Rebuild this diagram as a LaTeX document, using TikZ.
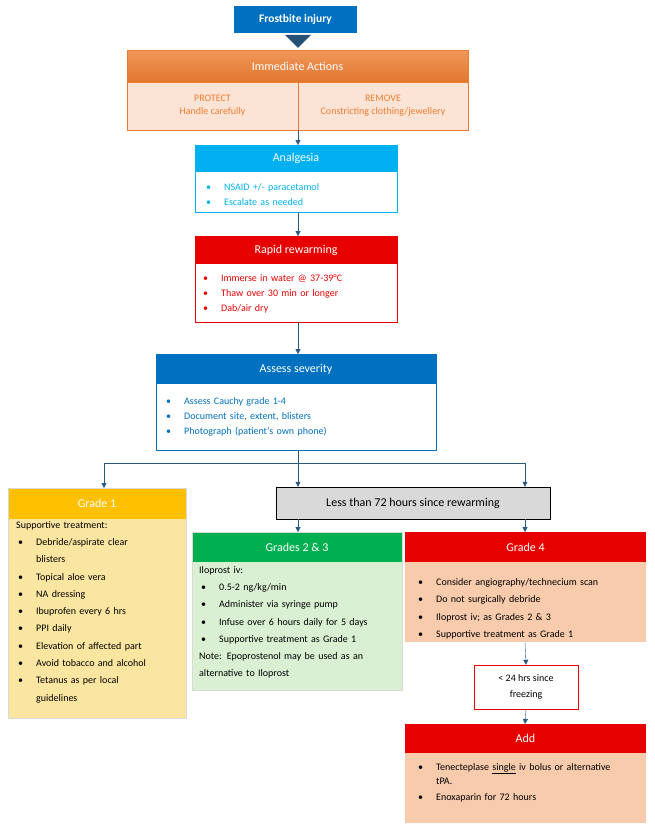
\documentclass[tikz,border=0pt]{standalone}
\usepackage{fontspec}
\setmainfont{Carlito}
\usetikzlibrary{arrows.meta,shapes.arrows}
\definecolor{ablue}{RGB}{0,112,192}
\definecolor{acyan}{RGB}{0,176,240}
\definecolor{ared}{RGB}{230,0,0}
\definecolor{aorange}{RGB}{237,125,49}
\definecolor{lorange}{RGB}{251,228,213}
\definecolor{ayellow}{RGB}{255,192,0}
\definecolor{lyellow}{RGB}{250,230,160}
\definecolor{agreen}{RGB}{0,176,80}
\definecolor{lgreen}{RGB}{217,240,211}
\definecolor{lpink}{RGB}{248,203,173}
\definecolor{agrey}{RGB}{217,217,217}
\definecolor{conn}{RGB}{40,90,130}
\newcommand\itm[1]{\par\hangindent=20pt\hangafter=1\noindent\makebox[20pt][l]{\hspace{2pt}\textbullet}#1}
\newcommand\nl{\\\hspace*{20pt}}
\begin{document}
\begin{tikzpicture}[x=1pt,y=-1pt,
  hdr/.style={draw=none,inner sep=0pt,font=\fontsize{12}{14}\selectfont,text=white},
  body/.style={anchor=north west,align=left,inner sep=0pt,font=\fontsize{10}{#1}\selectfont},
  arr/.style={conn,-{Triangle[length=5pt,width=5pt]}},
  ln/.style={conn}]
\useasboundingbox (0,0) rectangle (654,833);
% Frostbite
\fill[ablue] (234,6) rectangle (357,33);
\node[font=\fontsize{11.5}{13}\selectfont\bfseries,text=white] (fb) at (295.5,19.5) {Frostbite injury};
\node[single arrow,shape border rotate=270,fill=conn!90!black,minimum height=13pt,minimum width=26pt,single arrow head extend=4pt,inner sep=0pt] (ba) at (298,41) {};
% Immediate
\shade[top color=aorange!80,bottom color=aorange!95!black] (127,50) rectangle (468,82);
\fill[lorange] (127,82) rectangle (468,130);
\draw[aorange] (127,50) rectangle (468,130) (127,82) -- (468,82) (298,82) -- (298,130);
\node[hdr] (ia) at (297.5,66) {Immediate Actions};
\node[text=aorange,align=center,font=\fontsize{10}{13}\selectfont] (pr) at (212.5,106) {PROTECT\\Handle carefully};
\node[text=aorange,align=center,font=\fontsize{10}{13}\selectfont] (rm) at (383,106) {REMOVE\\Constricting clothing/jewellery};
\coordinate (ib) at (298,130);
% Analgesia
\fill[acyan] (195,145) rectangle (397,172);
\draw[acyan] (195,145) rectangle (397,212);
\node[hdr] (an) at (296,158.5) {Analgesia};
\node[body=15,text=acyan,text width=190pt] (anb) at (204,175) {\itm{NSAID +/- paracetamol}\itm{Escalate as needed}};
\coordinate (anbot) at (298,212);
% Rapid
\fill[ared] (195,236) rectangle (397,264);
\draw[ared] (195,236) rectangle (397,322);
\node[hdr] (rr) at (296,250) {Rapid rewarming};
\node[body=15,text=ared,text width=190pt] (rrb) at (201,266) {\itm{Immerse in water @ 37-39°C}\itm{Thaw over 30 min or longer}\itm{Dab/air dry}};
\coordinate (rrbot) at (298,322);
% Assess
\fill[ablue] (156,354) rectangle (436,384);
\draw[ablue] (156,354) rectangle (436,450);
\node[hdr] (as) at (296,369) {Assess severity};
\node[body=15,text=ablue,text width=270pt] (asb) at (164,389) {\itm{Assess Cauchy grade 1-4}\itm{Document site, extent, blisters}\itm{Photograph (patient’s own phone)}};
\coordinate (asbot) at (298,450);
\coordinate (j) at (298,463);
\coordinate (jl) at (104,463);
\coordinate (jr) at (525,463);
% Grade 1
\fill[ayellow] (8,488) rectangle (186,519);
\fill[lyellow] (8,519) rectangle (186,718);
\draw[white!85!black] (8,488) rectangle (186,718);
\node[hdr] (g1) at (97,503.5) {Grade 1};
\node[body=17.3,text width=170pt] (g1b) at (16,521) {Supportive treatment:\itm{Debride/aspirate clear\nl blisters}\itm{Topical aloe vera}\itm{NA dressing}\itm{Ibuprofen every 6 hrs}\itm{PPI daily}\itm{Elevation of affected part}\itm{Avoid tobacco and alcohol}\itm{Tetanus as per local\nl guidelines}};
% Less than 72
\node[draw=black,fill=agrey,minimum width=274pt,minimum height=32pt,inner sep=0pt,font=\fontsize{12}{14}\selectfont] (lt) at (413,503) {Less than 72 hours since rewarming};
% Grades 2&3
\fill[agreen] (192,532) rectangle (402,562);
\fill[lgreen] (192,562) rectangle (402,690);
\draw[white!85!black] (192,532) rectangle (402,690);
\node[hdr] (g23) at (297,547) {Grades 2 \& 3};
\node[body=17.3,text width=205pt] (g23b) at (199,566) {Iloprost iv:\itm{0.5-2 ng/kg/min}\itm{Administer via syringe pump}\itm{Infuse over 6 hours daily for 5 days}\itm{Supportive treatment as Grade 1}\par\noindent Note: Epoprostenol may be used as an\\alternative to Iloprost};
% Grade 4
\fill[ared] (405,532) rectangle (646,562);
\fill[lpink] (405,562) rectangle (646,642);
\node[hdr] (g4) at (525.5,547) {Grade 4};
\node[body=17.3,text width=230pt] (g4b) at (416,568) {\itm{Consider angiography/technecium scan}\itm{Do not surgically debride}\itm{Iloprost iv; as Grades 2 \& 3}\itm{Supportive treatment as Grade 1}};
\coordinate (g4bot) at (525,642);
% <24
\node[draw=ared,fill=white,minimum width=104pt,minimum height=44pt,inner sep=0pt,align=center,font=\fontsize{10}{16}\selectfont] (h24) at (526,687) {< 24 hrs since\\freezing};
% Add
\fill[ared] (405,724) rectangle (646,753);
\fill[lpink] (405,753) rectangle (646,823);
\node[hdr] (ad) at (525.5,738.5) {Add};
\node[body=14,text width=225pt] (adb) at (416,756) {\itm{Tenecteplase \underline{single} iv bolus or alternative\nl tPA.}\par\vspace{2pt}\itm{Enoxaparin for 72 hours}};
\coordinate (adtop) at (525,724);
% connectors
\draw[arr] (ib) -- (298,145);
\draw[arr] (anbot) -- (298,236);
\draw[arr] (rrbot) -- (298,354);
\draw[ln] (asbot) -- (j) (jl) -- (jr);
\draw[arr] (jl) -- (104,488);
\draw[arr] (j) -- (j |- lt.north);
\draw[arr] (jr) -- (jr |- lt.north);
\draw[arr] (298,519) -- (298,532);
\draw[arr] (525,519) -- (525,532);
\draw[arr] (g4bot) -- (h24.north);
\draw[arr] (h24.south) -- (adtop);
\end{tikzpicture}
\end{document}
